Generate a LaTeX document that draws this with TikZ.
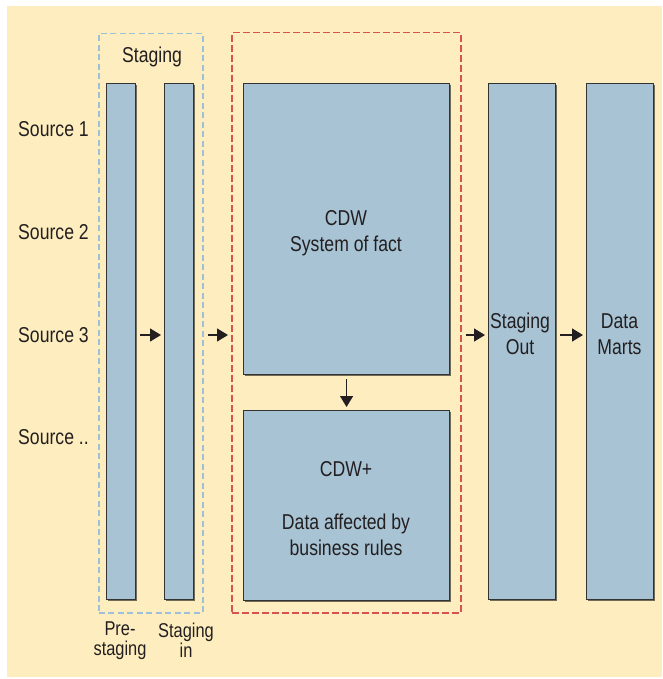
\documentclass[tikz,border=0pt]{standalone}
\usepackage{fontspec}
\setmainfont{Liberation Sans}[FakeStretch=0.82]
\usetikzlibrary{arrows.meta,calc,shadows}
\definecolor{bg}{HTML}{FEEEBF}
\definecolor{boxfill}{HTML}{A7C3D4}
\definecolor{boxline}{HTML}{333333}
\definecolor{bluedash}{HTML}{9DC0D8}
\definecolor{reddash}{HTML}{D6534E}
\definecolor{ink}{HTML}{231F20}
\begin{document}
\begin{tikzpicture}[x=1pt,y=-1pt,
  bar/.style={draw=boxline, line width=1.1pt, fill=boxfill, inner sep=0pt, anchor=north west,
    drop shadow={shadow xshift=1.3pt, shadow yshift=-1.3pt, opacity=0.55, fill=black}},
  bluebox/.style={draw=bluedash, line width=1.5pt, dash pattern=on 6pt off 3.5pt, inner sep=0pt, anchor=north west},
  redbox/.style={draw=reddash, line width=1.5pt, dash pattern=on 7pt off 3pt, inner sep=0pt, anchor=north west},
  lbl/.style={text=ink, font=\fontsize{21.5}{26}\selectfont, inner sep=0pt, align=center, anchor=base},
  lblsmall/.style={text=ink, font=\fontsize{20}{20}\selectfont, inner sep=0pt, align=center, anchor=base},
  src/.style={text=ink, font=\fontsize{21.5}{26}\selectfont, inner sep=0pt, anchor=base west},
  arr/.style={draw=ink, line width=1.3pt, -{Triangle[length=11pt,width=13pt]}, shorten <=4pt, shorten >=3pt}
]
\useasboundingbox (0,0) rectangle (662,679);
\fill[bg] (7,6) rectangle (662,677);

% dashed groups
\node[bluebox, minimum width=104pt, minimum height=579pt] (stg) at (98,33) {};
\node[redbox, minimum width=229pt, minimum height=580pt] (red) at (231,32) {};

% bars and boxes
\node[bar, minimum width=29pt, minimum height=516pt] (pre) at (106,83) {};
\node[bar, minimum width=29pt, minimum height=516pt] (stin) at (164,83) {};
\node[bar, minimum width=206pt, minimum height=291pt] (cdw) at (243,83) {};
\node[bar, minimum width=206pt, minimum height=190pt] (cdwp) at (243,410) {};
\node[bar, minimum width=67pt, minimum height=516pt] (sout) at (488,83) {};
\node[bar, minimum width=67pt, minimum height=516pt] (marts) at (586,83) {};

% texts (base anchor = baseline of last line)
\node[lbl] (stgtitle) at (152,63) {Staging};
\node[src] (s1) at (18,137) {Source 1};
\node[src] (s2) at (18,239.5) {Source 2};
\node[src] (s3) at (18,342) {Source 3};
\node[src] (s4) at (18,444.5) {Source ..};
\node[lbl] (cdwtxt) at (346,251) {CDW\\System of fact};
\node[lbl] (cdwptxt) at (346,555) {CDW+\\[27pt]Data affected by\\business rules};
\node[lbl] (souttxt) at (520,354) {Staging\\Out};
\node[lbl] (martstxt) at (619.5,354) {Data\\Marts};
\node[lblsmall] (pretxt) at (120,655) {Pre-\\staging};
\node[lblsmall] (stintxt) at (186,657) {Staging\\in};

% arrows
\coordinate (ay) at (0,335);
\draw[arr] (pre.east |- ay) -- (stin.west |- ay);
\draw[arr] (stg.east |- ay) -- (red.west |- ay);
\draw[arr] (red.east |- ay) -- (sout.west |- ay);
\draw[arr] (sout.east |- ay) -- (marts.west |- ay);
\draw[arr] (cdw.south) -- (cdwp.north);
\end{tikzpicture}
\end{document}
